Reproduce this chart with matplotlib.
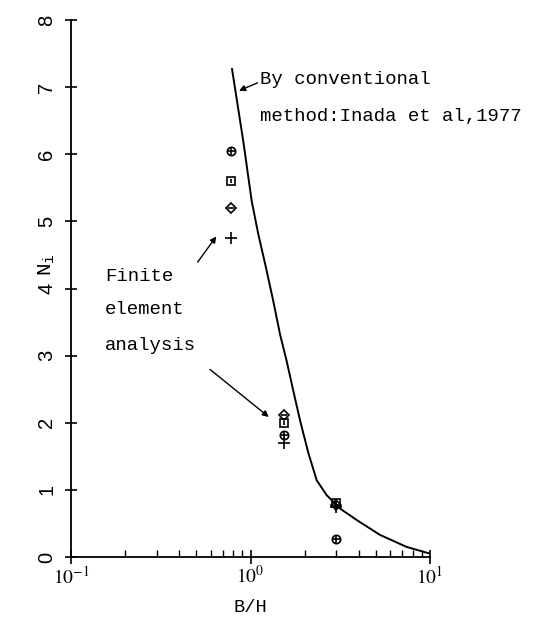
import matplotlib
matplotlib.use("Agg")
import matplotlib.pyplot as plt
from matplotlib.ticker import LogLocator, NullFormatter, FixedLocator

plt.rcParams['mathtext.fontset'] = 'stix'

# Conventional method curve (Inada et al, 1977)
curve_bh = [0.789, 0.912, 1.016, 1.105, 1.22, 1.34, 1.46, 1.59, 1.73, 1.89,
            2.10, 2.34, 2.66, 3.16, 3.91, 5.26, 7.41, 10.0]
curve_n = [7.27, 6.19, 5.30, 4.81, 4.31, 3.81, 3.32, 2.92, 2.48, 2.03,
           1.55, 1.14, 0.92, 0.72, 0.55, 0.33, 0.15, 0.05]

# Finite element analysis results
fe_bh = [0.78, 1.54, 3.0]
fe_circle = [6.05, 1.82, 0.27]
fe_square = [5.6, 2.0, 0.8]
fe_diamond = [5.2, 2.12, 0.78]
fe_plus = [4.75, 1.7, 0.75]

y_ticks = [0, 1, 2, 3, 4, 5, 6, 7, 8]
x_ticks = [0.1, 1.0, 10.0]
x_tick_labels = [r'$10^{-1}$', r'$10^{0}$', r'$10^{1}$']

fig = plt.figure(figsize=(5.36, 6.2), dpi=100)
ax = fig.add_axes([71/536, 1-557/620, (430-71)/536, (557-20)/620])

ax.plot(curve_bh, curve_n, color='black', lw=1.4)

mk = dict(linestyle='none', color='black', mfc='none', mew=1.2)
ax.plot(fe_bh, fe_circle, marker='o', ms=6, **mk)
ax.plot(fe_bh, fe_circle, marker='+', ms=6, **mk)
ax.plot(fe_bh, fe_square, marker='s', ms=6, **mk)
ax.plot(fe_bh, fe_square, marker='|', ms=3, **mk)
ax.plot(fe_bh, fe_diamond, marker='D', ms=5, **mk)
ax.plot(fe_bh, fe_diamond, marker='_', ms=4, **mk)
ax.plot(fe_bh, fe_plus, marker='+', ms=9, **mk)

ax.set_xscale('log')
ax.set_xlim(0.1, 10)
ax.set_ylim(0, 8)

for s in ['top', 'right']:
    ax.spines[s].set_visible(False)
for s in ['left', 'bottom']:
    ax.spines[s].set_linewidth(1.3)

ax.yaxis.set_major_locator(FixedLocator(y_ticks))
ax.set_yticklabels([str(v) for v in y_ticks], rotation=90, va='center',
                   fontsize=14.5, fontfamily='Liberation Sans')
ax.tick_params(axis='y', direction='inout', length=9, width=1.2, pad=6)

ax.xaxis.set_major_locator(FixedLocator(x_ticks))
ax.set_xticklabels(x_tick_labels, fontsize=14)
ax.xaxis.set_minor_locator(LogLocator(base=10, subs=range(2, 10)))
ax.xaxis.set_minor_formatter(NullFormatter())
ax.tick_params(axis='x', which='major', direction='inout', length=10, width=1.2, pad=1)
ax.tick_params(axis='x', which='minor', direction='in', length=5, width=1.0)

ax.set_xlabel('B/H', fontsize=13.5, fontfamily='Liberation Mono', labelpad=8)
ax.set_ylabel(r'$\mathregular{N_i}$', fontsize=15, fontfamily='Liberation Mono', rotation=90)
ax.yaxis.set_label_coords(-0.04, 0.545)

tfont = dict(fontsize=13.7, fontfamily='Liberation Mono', color='black')
ax.text(1.13, 7.11, 'By conventional', va='center', ha='left', **tfont)
ax.text(1.13, 6.56, 'method:Inada et al,1977', va='center', ha='left', **tfont)
ax.text(0.155, 4.18, 'Finite', va='center', ha='left', **tfont)
ax.text(0.155, 3.69, 'element', va='center', ha='left', **tfont)
ax.text(0.155, 3.15, 'analysis', va='center', ha='left', **tfont)

ap = dict(arrowstyle='-|>', color='black', lw=1.0, mutation_scale=9)
ax.annotate('', xy=(0.835, 6.93), xytext=(1.13, 7.08), arrowprops=ap)
ax.annotate('', xy=(0.659, 4.81), xytext=(0.497, 4.36), arrowprops=ap)
ax.annotate('', xy=(1.30, 2.06), xytext=(0.579, 2.82), arrowprops=ap)

fig.savefig('out.png', dpi=100)
